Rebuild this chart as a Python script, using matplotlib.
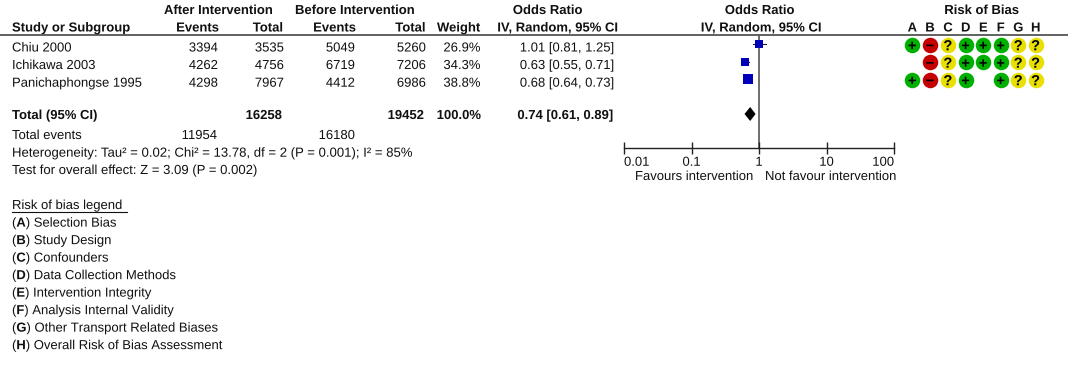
import matplotlib
matplotlib.use("Agg")
import matplotlib.pyplot as plt
import matplotlib.patheffects as pe

plt.rcParams['font.family'] = ['Liberation Sans', 'DejaVu Sans']
plt.rcParams['mathtext.fontset'] = 'custom'
plt.rcParams['mathtext.rm'] = 'Liberation Sans'
plt.rcParams['mathtext.bf'] = 'Liberation Sans:bold'
plt.rcParams['text.hinting'] = 'no_hinting'
plt.rcParams['text.hinting_factor'] = 1


class NoSnap(pe.AbstractPathEffect):
    """Draw text outlines at their exact position, without pixel snapping."""
    def draw_path(self, renderer, gc, tpath, affine, rgbFace=None):
        gc0 = renderer.new_gc()
        gc0.copy_properties(gc)
        gc0.set_snap(False)
        renderer.draw_path(gc0, tpath, affine, rgbFace)
        gc0.restore()


TEXT_FX = [NoSnap()]

# ---------- data ----------
studies = ["Chiu 2000", "Ichikawa 2003", "Panichaphongse 1995"]
after_events = [3394, 4262, 4298]
after_total = [3535, 4756, 7967]
before_events = [5049, 6719, 4412]
before_total = [5260, 7206, 6986]
weights = [26.9, 34.3, 38.8]
odds = [1.01, 0.63, 0.68]
ci_low = [0.81, 0.55, 0.64]
ci_high = [1.25, 0.71, 0.73]
total_after = 16258
total_before = 19452
total_or = 0.74
total_low = 0.61
total_high = 0.89
events_after = 11954
events_before = 16180
bias_letters = list("ABCDEFGH")
bias = ["+-?+++??", " -?+++??", "+-?+ +??"]
legend_items = [("A", "Selection Bias"), ("B", "Study Design"), ("C", "Confounders"),
                ("D", "Data Collection Methods"), ("E", "Intervention Integrity"),
                ("F", "Analysis Internal Validity"), ("G", "Other Transport Related Biases"),
                ("H", "Overall Risk of Bias Assessment")]
axis_ticks = [0.01, 0.1, 1, 10, 100]
axis_labels = ["0.01", "0.1", "1", "10", "100"]

# ---------- layout (pixels) ----------
W, H = 1068, 367
FS = 9.4
TXT = "#111111"
fig = plt.figure(figsize=(W / 100, H / 100), dpi=100, facecolor="white")
ax = fig.add_axes([0, 0, 1, 1])
ax.set_xlim(0, W)
ax.set_ylim(H, 0)
ax.axis("off")


def t(x, y, s, ha="left", bold=False, fs=FS, **kw):
    if ha == "right":
        x += 0.8
    ax.text(x, y, s, ha=ha, va="baseline", fontsize=fs, color=TXT,
            fontweight="bold" if bold else "normal", path_effects=TEXT_FX, **kw)


row_c = [44.5, 62, 79.5]
row_b = [51.5, 69, 86.7]

# headers
t(164, 14, "After Intervention", bold=True)
t(295, 14, "Before Intervention", bold=True)
t(547.5, 14, "Odds Ratio", ha="center", bold=True)
t(759.5, 14, "Odds Ratio", ha="center", bold=True)
t(981.5, 14, "Risk of Bias", ha="center", bold=True)
t(12, 31.5, "Study or Subgroup", bold=True)
t(218, 31.5, "Events", ha="right", bold=True)
t(283, 31.5, "Total", ha="right", bold=True)
t(355, 31.5, "Events", ha="right", bold=True)
t(425.5, 31.5, "Total", ha="right", bold=True)
t(479.5, 31.5, "Weight", ha="right", bold=True)
t(557.5, 31.5, "IV, Random, 95% CI", ha="center", bold=True)
t(761, 31.5, "IV, Random, 95% CI", ha="center", bold=True)
ax.plot([0, W], [34.5, 34.5], color="#555555", lw=1.3, solid_capstyle="butt")

# study rows
for i, name in enumerate(studies):
    y = row_b[i]
    t(12, y, name)
    t(217, y, str(after_events[i]), ha="right")
    t(283, y, str(after_total[i]), ha="right")
    t(354, y, str(before_events[i]), ha="right")
    t(425, y, str(before_total[i]), ha="right")
    t(479.5, y, f"{weights[i]:.1f}%", ha="right")
    t(613, y, f"{odds[i]:.2f} [{ci_low[i]:.2f}, {ci_high[i]:.2f}]", ha="right")

# totals
t(12, 119, "Total (95% CI)", bold=True)
t(281, 119, str(total_after), ha="right", bold=True)
t(423, 119, str(total_before), ha="right", bold=True)
t(480, 119, "100.0%", ha="right", bold=True)
t(612, 119, f"{total_or:.2f} [{total_low:.2f}, {total_high:.2f}]", ha="right", bold=True)
t(12, 139, "Total events")
t(217, 139, str(events_after), ha="right")
t(354, 139, str(events_before), ha="right")
t(12, 156.7, "Heterogeneity: Tau² = 0.02; Chi² = 13.78, df = 2 (P = 0.001); I² = 85%", fs=9.47)
t(12, 174, "Test for overall effect: Z = 3.09 (P = 0.002)", fs=9.45)

# legend
t(12, 209, "Risk of bias legend")
ax.plot([12, 127], [211.5, 211.5], color=TXT, lw=0.8)
for i, (letter, label) in enumerate(legend_items):
    t(12, 226.7 + 17.5 * i, rf"($\mathbf{{{letter}}}$) {label}")

# risk-of-bias dots
bias_x = [912.3, 930, 948, 965.7, 983.3, 1000.7, 1018.3, 1035.7]
colors = {"+": "#00b000", "-": "#c40000", "?": "#e8e000"}
glyphs = {"+": "+", "-": "\u2212", "?": "?"}
for x, letter in zip(bias_x, bias_letters):
    t(x, 31.5, letter, ha="center", bold=True)
for r, rowstr in enumerate(bias):
    for x, c in zip(bias_x, rowstr):
        if c == " ":
            continue
        ax.scatter([x], [row_c[r]], s=(15.5 * 0.72) ** 2, color=colors[c], linewidths=0, zorder=2)
        ax.text(x, row_c[r] + 0.3, glyphs[c], ha="center", va="center_baseline", fontsize=10.5,
                fontweight="bold", color="black", zorder=3, path_effects=TEXT_FX)

# forest plot
x0, x1, ytop, ybot = 624, 894, 35, 148
fa = fig.add_axes([x0 / W, 1 - ybot / H, (x1 - x0) / W, (ybot - ytop) / H])
fa.set_xscale("log")
fa.set_xlim(0.01, 100)
fa.set_ylim(ybot, ytop)
fa.patch.set_alpha(0)
for s in ("top", "left", "right"):
    fa.spines[s].set_visible(False)
fa.spines["bottom"].set_color("#222222")
fa.spines["bottom"].set_linewidth(1.0)
fa.set_yticks([])
fa.set_xticks(axis_ticks)
fa.set_xticklabels(axis_labels, fontsize=FS, color=TXT)
fa.minorticks_off()
fa.tick_params(axis="x", direction="inout", length=8, width=1.0, color="#222222", pad=2)
labs = fa.get_xticklabels()
labs[0].set_ha("left")
labs[-1].set_ha("right")
for lab in labs:
    lab.set_clip_on(False)
    lab.set_path_effects(TEXT_FX)
fa.axvline(1, color="#555555", lw=1.2, zorder=1)
for i in range(3):
    fa.plot([ci_low[i], ci_high[i]], [row_c[i]] * 2, color="#222222", lw=0.8, zorder=2)
    fa.plot([odds[i]], [row_c[i]], marker="s", ms=1.52 * weights[i] ** 0.5 * 0.72,
            color="#0000b8", mew=0, zorder=3)
dy = 114
fa.fill([total_low, total_or, total_high, total_or],
        [dy, dy - 7, dy, dy + 7], color="black", lw=0, zorder=3, clip_on=False)

t(752, 180, "Favours intervention", ha="right")
t(765, 180, "Not favour intervention")

fig.savefig("out.png", dpi=100, facecolor="white")
